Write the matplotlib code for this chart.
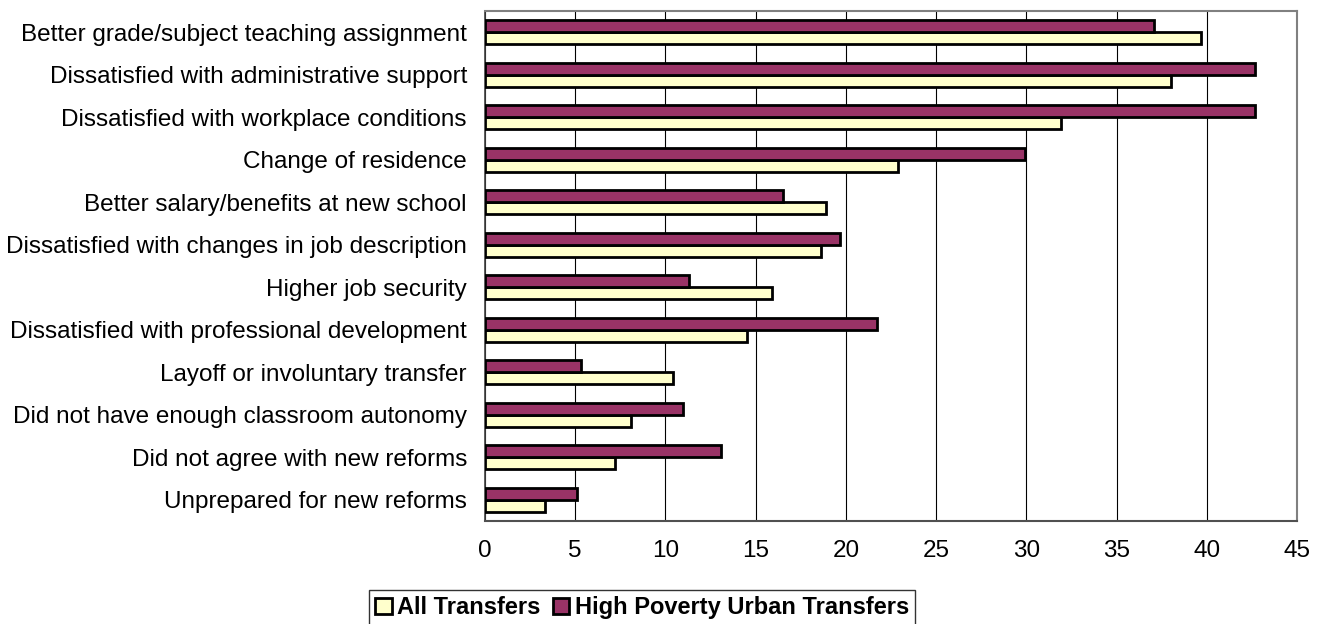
import matplotlib.pyplot as plt
import numpy as np

plt.rcParams['font.family'] = ['Liberation Sans', 'DejaVu Sans']

# Reasons for transferring, top to bottom
reasons = [
    'Better grade/subject teaching assignment',
    'Dissatisfied with administrative support',
    'Dissatisfied with workplace conditions',
    'Change of residence',
    'Better salary/benefits at new school',
    'Dissatisfied with changes in job description',
    'Higher job security',
    'Dissatisfied with professional development',
    'Layoff or involuntary transfer',
    'Did not have enough classroom autonomy',
    'Did not agree with new reforms',
    'Unprepared for new reforms',
]
all_transfers = [39.7, 38.0, 31.9, 22.9, 18.9, 18.6, 15.9, 14.5, 10.4, 8.1, 7.2, 3.3]
high_poverty = [37.1, 42.7, 42.7, 29.9, 16.5, 19.7, 11.3, 21.7, 5.3, 11.0, 13.1, 5.1]
xticks = [0, 5, 10, 15, 20, 25, 30, 35, 40, 45]

fig = plt.figure(figsize=(13.24, 6.24), dpi=100)
ax = fig.add_axes([0.3663, 0.165, 0.6133, 0.8174])

y = np.arange(len(reasons))
h = 0.28
ax.barh(y + h / 2, all_transfers, height=h, color='#FFFFCC', edgecolor='black',
        linewidth=2.0, label='All Transfers', zorder=3)
ax.barh(y - h / 2, high_poverty, height=h, color='#993366', edgecolor='black',
        linewidth=2.0, label='High Poverty Urban Transfers', zorder=3)

ax.set_xlim(0, 45)
ax.set_ylim(len(reasons) - 0.5, -0.5)
ax.set_xticks(xticks)
ax.set_yticks(y)
ax.set_yticklabels(reasons)
ax.tick_params(axis='y', length=0, pad=13, labelsize=17.5)
ax.tick_params(axis='x', length=0, pad=14, labelsize=17.5)
ax.grid(axis='x', color='black', linewidth=0.8, zorder=0)

for side in ['top', 'right']:
    ax.spines[side].set_color('#808080')
    ax.spines[side].set_linewidth(1.5)
ax.spines['bottom'].set_color('#505050')
ax.spines['bottom'].set_linewidth(1.5)
ax.spines['left'].set_color('#404040')
ax.spines['left'].set_linewidth(1.2)

leg = fig.legend(loc='center', bbox_to_anchor=(0.485, 0.026), ncol=2,
                 frameon=True, fancybox=False, edgecolor='black',
                 prop={'weight': 'bold', 'size': 17},
                 handlelength=0.7, handleheight=0.7, handletextpad=0.25,
                 columnspacing=0.5, borderpad=0.25)
leg.get_frame().set_linewidth(1.0)

fig.savefig('out.png', dpi=100)
